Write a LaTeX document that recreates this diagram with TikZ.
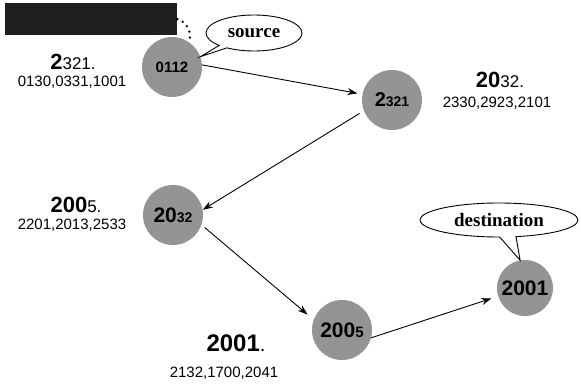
\documentclass[tikz,border=0pt]{standalone}
\usepackage{fontspec}
\setmainfont{Liberation Sans}
\newfontfamily\calloutfont{Liberation Serif}
\usetikzlibrary{arrows.meta,shapes.geometric,shapes.callouts}

\newcommand{\fs}[1]{\fontsize{#1}{#1}\selectfont}

\begin{document}
\begin{tikzpicture}[x=1pt,y=-1pt,
  peer/.style={circle,fill=black!42,minimum size=60pt,inner sep=0pt},
  hop/.style={line width=0.9pt,-{Stealth[length=10pt,width=7pt]}},
  addr/.style={inner sep=0pt,anchor=center},
  balloon/.style={ellipse callout,draw,line width=0.9pt,fill=white,
    callout pointer arc=12,inner sep=2pt,font=\calloutfont\bfseries\fs{19}}
]
\useasboundingbox (0,0) rectangle (581,385);

% dark header bar and its dotted lead to the source peer
\node[fill=black!88,minimum width=172pt,minimum height=32pt,inner sep=0pt,anchor=north west] (hdr) at (5,3) {};

% peers
\node[peer] (p0112) at (172,67) {\bfseries\fs{15}0112};
\node[peer] (p2321) at (392,100) {\bfseries{\fs{20}2}{\fs{14}321}};
\node[peer] (p2032) at (173,215) {\bfseries{\fs{21}20}{\fs{14}32}};
\node[peer] (p2005) at (342,330) {\bfseries{\fs{21}200}{\fs{15}5}};
\node[peer,minimum size=56pt] (p2001) at (525,288) {\bfseries\fs{21}2001};

\draw[line width=2.6pt,line cap=round,dash pattern=on 0pt off 6pt]
  (hdr.east) to[out=-15,in=75] (p0112.55);

% routing hops
\draw[hop,shorten >=5pt] (p0112.4) -- (p2321.169);
\draw[hop,shorten <=5pt] (p2321.201) -- (p2032.10);
\draw[hop,shorten <=4pt,shorten >=8pt] (p2032.-19) -- (p2005.160);
\draw[hop,shorten >=7pt] (p2005.-15) -- (p2001.197);

% routing-table labels
\node[addr] (t1a) at (73,62) {{\bfseries\fs{22}2}{\fs{17}321.}};
\node[addr] (t1b) at (72,82) {\fs{15}0130,0331,1001};
\node[addr] (t2a) at (500,80) {{\bfseries\fs{22}20}{\fs{17}32.}};
\node[addr] (t2b) at (497,103) {\fs{15}2330,2923,2101};
\node[addr] (t3a) at (76,205) {{\bfseries\fs{22}200}{\fs{17}5.}};
\node[addr] (t3b) at (72,225) {\fs{15}2201,2013,2533};
\node[addr] (t4a) at (236,343) {{\bfseries\fs{24}2001}{\fs{20}.}};
\node[addr] (t4b) at (224,373) {\fs{15}2132,1700,2041};

% callouts
\node[balloon,minimum width=96pt,minimum height=36pt,
  callout absolute pointer={(p0112.20)}] (src) at (254,33) {source};
\node[balloon,minimum width=158pt,minimum height=34pt,
  callout absolute pointer={(p2001.100)}] (dst) at (499,220) {destination};
\end{tikzpicture}
\end{document}
